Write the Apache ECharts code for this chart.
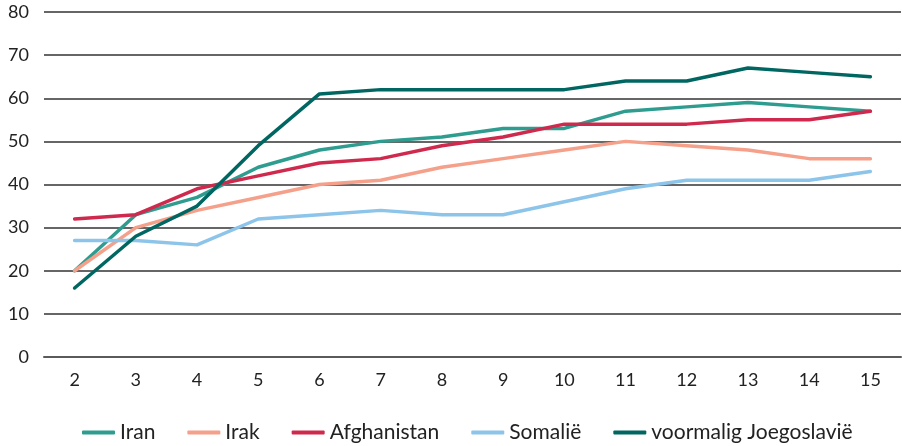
<!DOCTYPE html>
<html><head><meta charset="utf-8">
<script src="https://cdn.jsdelivr.net/npm/echarts@6/dist/echarts.min.js"></script>
<style>html,body{margin:0;padding:0;background:#fff}#c{width:902px;height:446px}</style>
</head><body><div id="c"></div>
<script>
const categories = ['2','3','4','5','6','7','8','9','10','11','12','13','14','15'];
const iran = [20,33,37,44,48,50,51,53,53,57,58,59,58,57];
const irak = [20,30,34,37,40,41,44,46,48,50,49,48,46,46];
const afghanistan = [32,33,39,42,45,46,49,51,54,54,54,55,55,57];
const somalie = [27,27,26,32,33,34,33,33,36,39,41,41,41,43];
const joegoslavie = [16,28,35,49,61,62,62,62,62,64,64,67,66,65];
const seriesNames = ['Iran','Irak','Afghanistan','Somalië','voormalig Joegoslavië'];
const colors = ['#2e9c8f','#f4a08a','#cf2a4d','#8dc4ea','#006661'];
const values = [iran, irak, afghanistan, somalie, joegoslavie];

const font = 'Lato';
const chart = echarts.init(document.getElementById('c'));
chart.setOption({
  animation:false,
  color: colors,
  grid:{left:44,right:1,top:12,bottom:89,containLabel:false},
  legend:{
    left:77, bottom:-2, itemWidth:33, itemHeight:4, itemGap:32,
    icon:'roundRect',
    textStyle:{fontFamily:font,fontSize:21,color:'#222'},
    data: seriesNames
  },
  xAxis:{
    type:'category', data:categories, boundaryGap:true,
    axisLine:{lineStyle:{color:'#5a5a5a',width:2}},
    axisTick:{show:false},
    axisLabel:{fontFamily:font,fontSize:18,color:'#222',margin:14}
  },
  yAxis:{
    type:'value', min:0, max:80, interval:10,
    axisLine:{show:false}, axisTick:{show:false},
    axisLabel:{fontFamily:font,fontSize:18,color:'#222',margin:15},
    splitLine:{lineStyle:{color:'#333',width:1.5}}
  },
  series: seriesNames.map((n,i)=>({
    name:n, type:'line', data:values[i], symbol:'none',
    lineStyle:{width:3.5,color:colors[i],cap:'round',join:'round'},
    itemStyle:{color:colors[i]}
  }))
});
</script></body></html>
